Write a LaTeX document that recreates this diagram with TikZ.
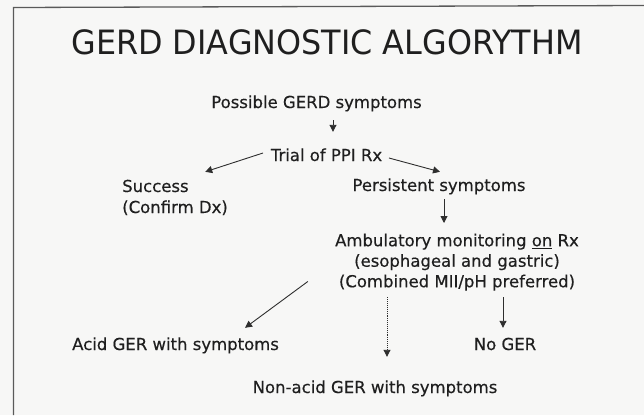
\documentclass[tikz,border=0pt]{standalone}
\usepackage{fontspec}
\setmainfont{DejaVu Sans}
\newfontfamily\titlefont[FakeStretch=0.95]{DejaVu Sans}
\newfontfamily\bodyfont[FakeBold=0.4]{DejaVu Sans}
\usetikzlibrary{arrows.meta}
\definecolor{ink}{HTML}{1F1F1F}
\definecolor{arrowcol}{HTML}{2E2E2E}
\definecolor{framecol}{HTML}{5A5A5A}
\definecolor{paper}{HTML}{F7F7F6}
\tikzset{
  body/.style={font=\bodyfont\fontsize{16.5}{20.5}\selectfont, text=ink, inner sep=0pt, text height=12pt, text depth=4pt},
  bodyml/.style={font=\bodyfont\fontsize{16.5}{20.5}\selectfont, text=ink, inner sep=0pt, align=center},
  arr/.style={draw=arrowcol, line width=0.9pt, -{Triangle[length=7pt,width=7pt]}},
  dotarr/.style={arr, densely dotted},
}
\begin{document}
\begin{tikzpicture}[x=1pt,y=1pt]
\useasboundingbox (0,0) rectangle (644,-415);
\fill[paper] (0,0) rectangle (644,-415);
% frame (cut by the page edges)
\draw[framecol, line width=1.3pt] (644,-5.5) -- (13.5,-7.5) -- (13.5,-415);

% title
\node[anchor=base, inner sep=0pt, text=ink, font=\titlefont\fontsize{33.5}{40}\selectfont] (title) at (327,-54) {GERD DIAGNOSTIC ALGORYTHM};

% nodes
\node[body, anchor=base] (possible) at (316.5,-108) {Possible GERD symptoms};
\node[body, anchor=base] (trial) at (326.5,-161) {Trial of PPI Rx};
\node[body, anchor=base west] (success) at (122,-192) {Success};
\node[body, anchor=base west] (confirm) at (122,-213) {(Confirm Dx)};
\node[body, anchor=base] (persistent) at (439,-191) {Persistent symptoms};
\node[bodyml, anchor=north] (amb) at (457,-233.5) {Ambulatory monitoring \underline{on} Rx\\(esophageal and gastric)\\(Combined MII/pH preferred)};
\node[body, anchor=base west] (acid) at (72,-350) {Acid GER with symptoms};
\node[body, anchor=base] (noger) at (505,-350) {No GER};
\node[body, anchor=base] (nonacid) at (375,-393) {Non-acid GER with symptoms};

% connectors
\draw[arr] ([xshift=16.5pt,yshift=-8pt]possible.south) -- ([xshift=6.5pt,yshift=17pt]trial.north);
\draw[arr] ([xshift=-7.6pt,yshift=4pt]trial.west) -- ([xshift=49.8pt,yshift=8pt]success.north);
\draw[arr] ([xshift=6.6pt,yshift=-1pt]trial.east) -- ([xshift=1pt,yshift=7pt]persistent.north);
\draw[arr] ([xshift=5pt,yshift=-4pt]persistent.south) -- ([xshift=-13pt,yshift=10.5pt]amb.north);
\draw[arr] ([xshift=-27.1pt,yshift=9.4pt]amb.south west) -- ([xshift=69.5pt,yshift=10pt]acid.north);
\draw[dotarr] ([xshift=-70pt,yshift=-6.6pt]amb.south) -- ([xshift=12pt,yshift=24pt]nonacid.north);
\draw[arr] ([xshift=46pt,yshift=-6.6pt]amb.south) -- ([xshift=-2pt,yshift=10pt]noger.north);
\end{tikzpicture}
\end{document}
